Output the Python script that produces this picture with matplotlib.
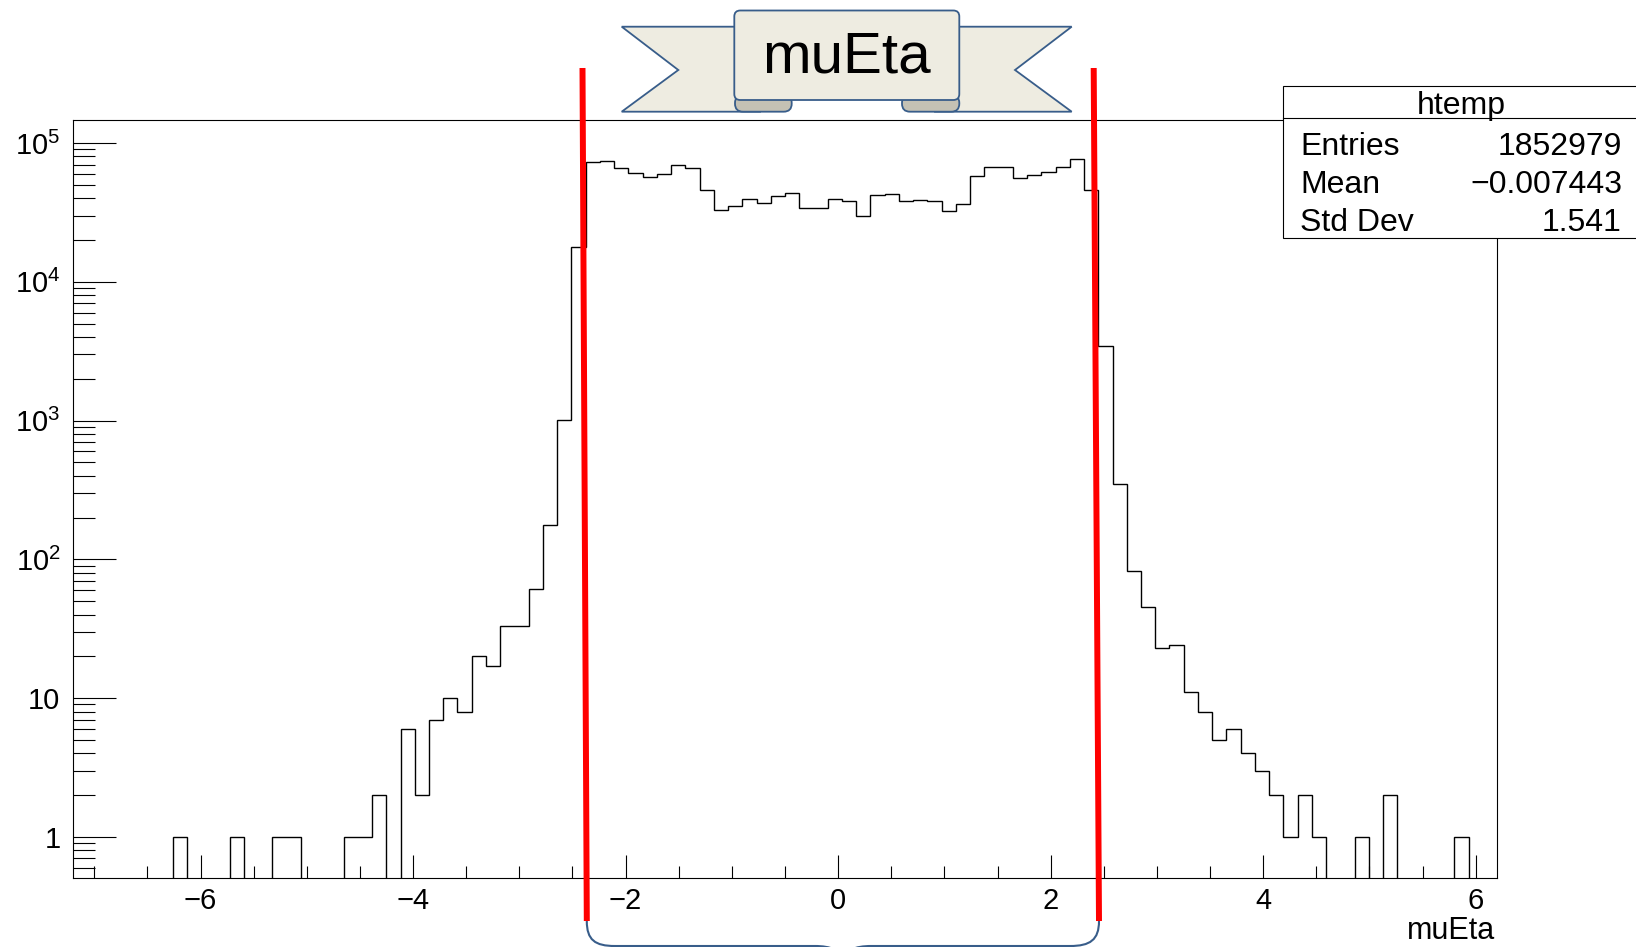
import numpy as np
import matplotlib.pyplot as plt
from matplotlib.patches import Polygon, Rectangle, FancyBboxPatch, PathPatch
from matplotlib.path import Path
from matplotlib.ticker import MultipleLocator, FixedLocator, LogLocator, NullFormatter

plt.rcParams['font.family'] = ['Liberation Sans', 'DejaVu Sans']
plt.rcParams['mathtext.fontset'] = 'custom'
plt.rcParams['mathtext.rm'] = 'Liberation Sans'

# muEta histogram: 100 bins between -7.2 and 6.2, counts
x_min, x_max, n_bins = -7.2, 6.2, 100
counts = [0, 0, 0, 0, 0, 0, 0, 1, 0, 0,
          0, 1, 0, 0, 1, 1, 0, 0, 0, 1,
          1, 2, 0, 6, 2, 7, 10, 8, 20, 17,
          33, 33, 61, 176, 1007, 17800, 73100, 74800, 65800, 61200,
          56700, 60300, 70000, 65800, 46200, 33000, 35400, 39800, 37000, 41400,
          44000, 34300, 34300, 39600, 38500, 30000, 41900, 43000, 38500, 38900,
          38300, 32600, 36400, 57700, 66900, 66900, 55700, 58900, 61900, 66900,
          77300, 45900, 3420, 348, 82, 45, 23, 24, 11, 8,
          5, 6, 4, 3, 2, 1, 2, 1, 0, 0,
          1, 0, 2, 0, 0, 0, 0, 1, 0, 0]
y_ticks = [1, 10, 1e2, 1e3, 1e4, 1e5]
y_labels = ['1', '10', r'$\mathregular{10^{2}}$', r'$\mathregular{10^{3}}$',
            r'$\mathregular{10^{4}}$', r'$\mathregular{10^{5}}$']
stat_names = ['Entries', 'Mean', 'Std Dev']
stat_values = ['1852979', '\u22120.007443', '1.541']
hist_name = 'htemp'
var_name = 'muEta'

W, H = 1636, 947
fig = plt.figure(figsize=(W / 100, H / 100), dpi=100)
ax = fig.add_axes([73 / W, 1 - 878 / H, 1424 / W, 758 / H])

edges = np.linspace(x_min, x_max, n_bins + 1)
c = np.array(counts, dtype=float)
c_plot = np.where(c > 0, c, 1e-3)   # empty bins drop to the floor on log scale
ax.stairs(c_plot, edges, baseline=None, color='black', lw=1.0)

ax.set_yscale('log')
ax.set_xlim(x_min, x_max)
ax.set_ylim(0.505, 1.466e5)

ax.xaxis.set_major_locator(MultipleLocator(2))
ax.xaxis.set_minor_locator(MultipleLocator(0.5))
ax.yaxis.set_major_locator(FixedLocator(y_ticks))
ax.set_yticklabels(y_labels)
ax.yaxis.set_minor_locator(LogLocator(base=10, subs=np.arange(2, 10), numticks=30))
ax.yaxis.set_minor_formatter(NullFormatter())

ax.tick_params(which='both', direction='in', top=False, right=False, width=0.8)
ax.tick_params(axis='x', which='major', length=16.5, labelsize=21, pad=6.5)
ax.tick_params(axis='x', which='minor', length=8.4)
ax.tick_params(axis='y', which='major', length=31, labelsize=21, pad=9)
ax.tick_params(axis='y', which='minor', length=15.8)
for s in ax.spines.values():
    s.set_linewidth(0.8)

fig.text(1495 / W, 1 - 946 / H, var_name, ha='right', va='bottom', fontsize=22)

# overlay in pixel coordinates for the stats box and the slide decorations
ov = fig.add_axes([0, 0, 1, 1], zorder=10)
ov.set_xlim(0, W)
ov.set_ylim(H, 0)
ov.axis('off')

# stats box
ov.add_patch(Rectangle((1282.7, 86), 420, 152, facecolor='white', edgecolor='black', lw=0.8))
ov.plot([1282.7, W], [118, 118], color='black', lw=0.8)
ov.text(1461, 106, hist_name, ha='center', va='center', fontsize=23)
for k, (nm, val) in enumerate(zip(stat_names, stat_values)):
    yy = 147 + 38 * k
    ov.text(1300, yy, nm, ha='left', va='center', fontsize=23)
    ov.text(1622, yy, val, ha='right', va='center', fontsize=23)

# red cut lines
ov.plot([582.5, 586.8], [68, 921], color='#ff0000', lw=4.3, solid_capstyle='butt')
ov.plot([1093.7, 1099.0], [68, 921], color='#ff0000', lw=4.3, solid_capstyle='butt')

# brace under the cut region
blue = '#385D8A'
verts = [(586.8, 921), (586.8, 940), (595, 946), (615, 946),
         (815, 946),
         (830, 946), (843, 950), (843, 962),
         (843, 950), (856, 946), (871, 946),
         (1070, 946),
         (1090, 946), (1099, 940), (1099, 921)]
codes = [Path.MOVETO, Path.CURVE4, Path.CURVE4, Path.CURVE4,
         Path.LINETO,
         Path.CURVE4, Path.CURVE4, Path.CURVE4,
         Path.CURVE4, Path.CURVE4, Path.CURVE4,
         Path.LINETO,
         Path.CURVE4, Path.CURVE4, Path.CURVE4]
ov.add_patch(PathPatch(Path(verts, codes), facecolor='none', edgecolor=blue, lw=1.5))

# ribbon banner
beige = '#EEECE1'
ov.add_patch(Polygon([(621.7, 26.7), (760, 26.7), (760, 111.7), (621.7, 111.7), (678.3, 70)],
                     closed=True, facecolor=beige, edgecolor=blue, lw=1.3, zorder=1))
ov.add_patch(Polygon([(1071.7, 26.7), (935, 26.7), (935, 111.7), (1071.7, 111.7), (1015, 70)],
                     closed=True, facecolor=beige, edgecolor=blue, lw=1.3, zorder=1))
for fx, fw in [(735, 56.7), (902, 57.3)]:
    ov.add_patch(FancyBboxPatch((fx, 95), fw, 16.7, boxstyle='round,pad=0,rounding_size=8',
                                facecolor='#C4C1B4', edgecolor=blue, lw=1.3, zorder=2))
ov.add_patch(FancyBboxPatch((734.3, 10.5), 225, 89.5, boxstyle='round,pad=0,rounding_size=6',
                            facecolor=beige, edgecolor=blue, lw=1.3, zorder=3))
ov.text(846, 72, var_name, ha='center', va='baseline', fontsize=42, zorder=4)

fig.savefig('out.png', dpi=100)
